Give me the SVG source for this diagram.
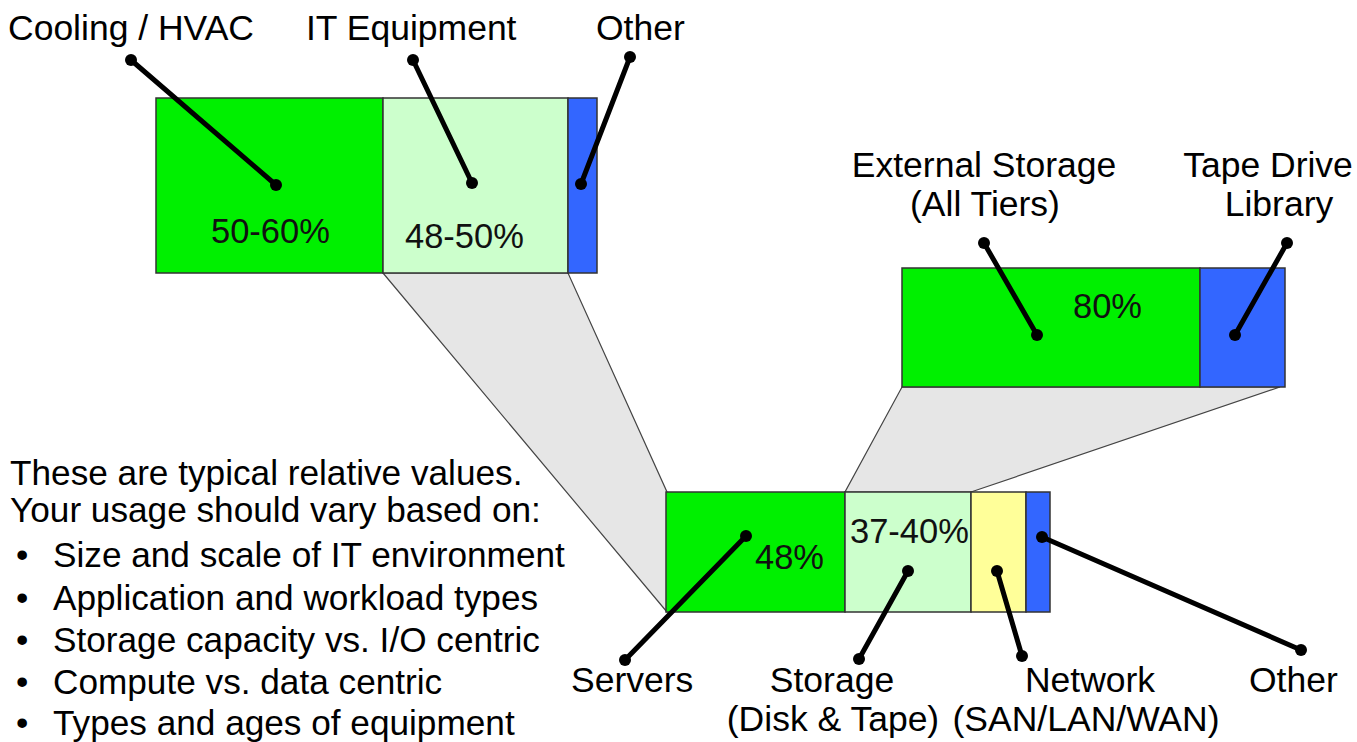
<svg xmlns="http://www.w3.org/2000/svg" width="1357" height="742" viewBox="0 0 1357 742">
<style>
.t{font-family:"Liberation Sans",Arial,sans-serif;font-size:35.5px;fill:#000}
.n{font-family:"Liberation Sans",Arial,sans-serif;font-size:35.2px;fill:#000}
.p{font-family:"Liberation Sans",Arial,sans-serif;font-size:34.5px;fill:#111}
.c{text-anchor:middle}
.funnel{fill:#e6e6e6;stroke:#444;stroke-width:1.2}
.seg{stroke:#333;stroke-width:1.5}
.g{fill:#00f000}.lg{fill:#ccffcc}.b{fill:#3366ff}.y{fill:#ffff99}
.ld{stroke:#000;stroke-width:5;stroke-linecap:round;fill:none}
.dot{fill:#000}
</style>
<rect width="1357" height="742" fill="#fff"/>
<g id="funnels">
<polygon class="funnel" points="383,273 568,273 667,492 667,612"/>
<polygon class="funnel" points="902,387 1280,387 971,492 845,492"/>
</g>
<g id="facility-bar">
<rect class="seg g" x="156" y="98" width="227" height="175"/>
<rect class="seg lg" x="383" y="98" width="185" height="175"/>
<rect class="seg b" x="568" y="98" width="29" height="175"/>
<text class="p" x="211" y="243">50-60%</text>
<text class="p" x="405" y="248">48-50%</text>
</g>
<g id="storage-bar">
<rect class="seg g" x="902" y="268" width="298" height="119"/>
<rect class="seg b" x="1200" y="268" width="85" height="119"/>
<text class="p" x="1073" y="318">80%</text>
</g>
<g id="it-bar">
<rect class="seg g" x="666" y="492" width="179" height="120"/>
<rect class="seg lg" x="845" y="492" width="126" height="120"/>
<rect class="seg y" x="971" y="492" width="55" height="120"/>
<rect class="seg b" x="1026" y="492" width="24" height="120"/>
<text class="p" x="755" y="569">48%</text>
<text class="p" x="850" y="543">37-40%</text>
</g>
<g id="connectors">
<path class="ld" d="M131,60 L276,185"/>
<path class="ld" d="M413,60 L472,183"/>
<path class="ld" d="M630,57 L581,184"/>
<path class="ld" d="M984,243 L1037,335"/>
<path class="ld" d="M1287,243 L1235,335"/>
<path class="ld" d="M746,536 L625,660"/>
<path class="ld" d="M908,571 L859,659"/>
<path class="ld" d="M997,571 L1022,656"/>
<path class="ld" d="M1042,537 L1301,650"/>
<g class="dot">
<circle cx="131" cy="60" r="6"/><circle cx="276" cy="185" r="6"/>
<circle cx="413" cy="60" r="6"/><circle cx="472" cy="183" r="6"/>
<circle cx="630" cy="57" r="6"/><circle cx="581" cy="184" r="6"/>
<circle cx="984" cy="243" r="6"/><circle cx="1037" cy="335" r="6"/>
<circle cx="1287" cy="243" r="6"/><circle cx="1235" cy="335" r="6"/>
<circle cx="746" cy="536" r="6"/><circle cx="625" cy="660" r="6"/>
<circle cx="908" cy="571" r="6"/><circle cx="859" cy="659" r="6"/>
<circle cx="997" cy="571" r="6"/><circle cx="1022" cy="656" r="6"/>
<circle cx="1042" cy="537" r="6"/><circle cx="1301" cy="650" r="6"/>
</g>
</g>
<g id="labels">
<text class="t" x="8" y="40">Cooling / HVAC</text>
<text class="t" x="306" y="40">IT Equipment</text>
<text class="t" x="596" y="40">Other</text>
<text class="t c" x="984" y="177">External Storage</text>
<text class="t c" x="985" y="216">(All Tiers)</text>
<text class="t c" x="1268" y="177">Tape Drive</text>
<text class="t c" x="1279" y="216">Library</text>
<text class="t" x="571" y="692">Servers</text>
<text class="t c" x="832" y="692">Storage</text>
<text class="t c" x="833" y="731">(Disk &amp; Tape)</text>
<text class="t c" x="1090" y="692">Network</text>
<text class="t c" x="1086" y="731">(SAN/LAN/WAN)</text>
<text class="t" x="1249" y="692">Other</text>
</g>
<g id="notes">
<text class="n" x="10" y="485">These are typical relative values.</text>
<text class="n" x="10" y="522">Your usage should vary based on:</text>
<text class="n" x="16" y="567">•</text><text class="n" x="53" y="567">Size and scale of IT environment</text>
<text class="n" x="16" y="610">•</text><text class="n" x="53" y="610">Application and workload types</text>
<text class="n" x="16" y="652">•</text><text class="n" x="53" y="652">Storage capacity vs. I/O centric</text>
<text class="n" x="16" y="694">•</text><text class="n" x="53" y="694">Compute vs. data centric</text>
<text class="n" x="16" y="735">•</text><text class="n" x="53" y="735">Types and ages of equipment</text>
</g>
</svg>
